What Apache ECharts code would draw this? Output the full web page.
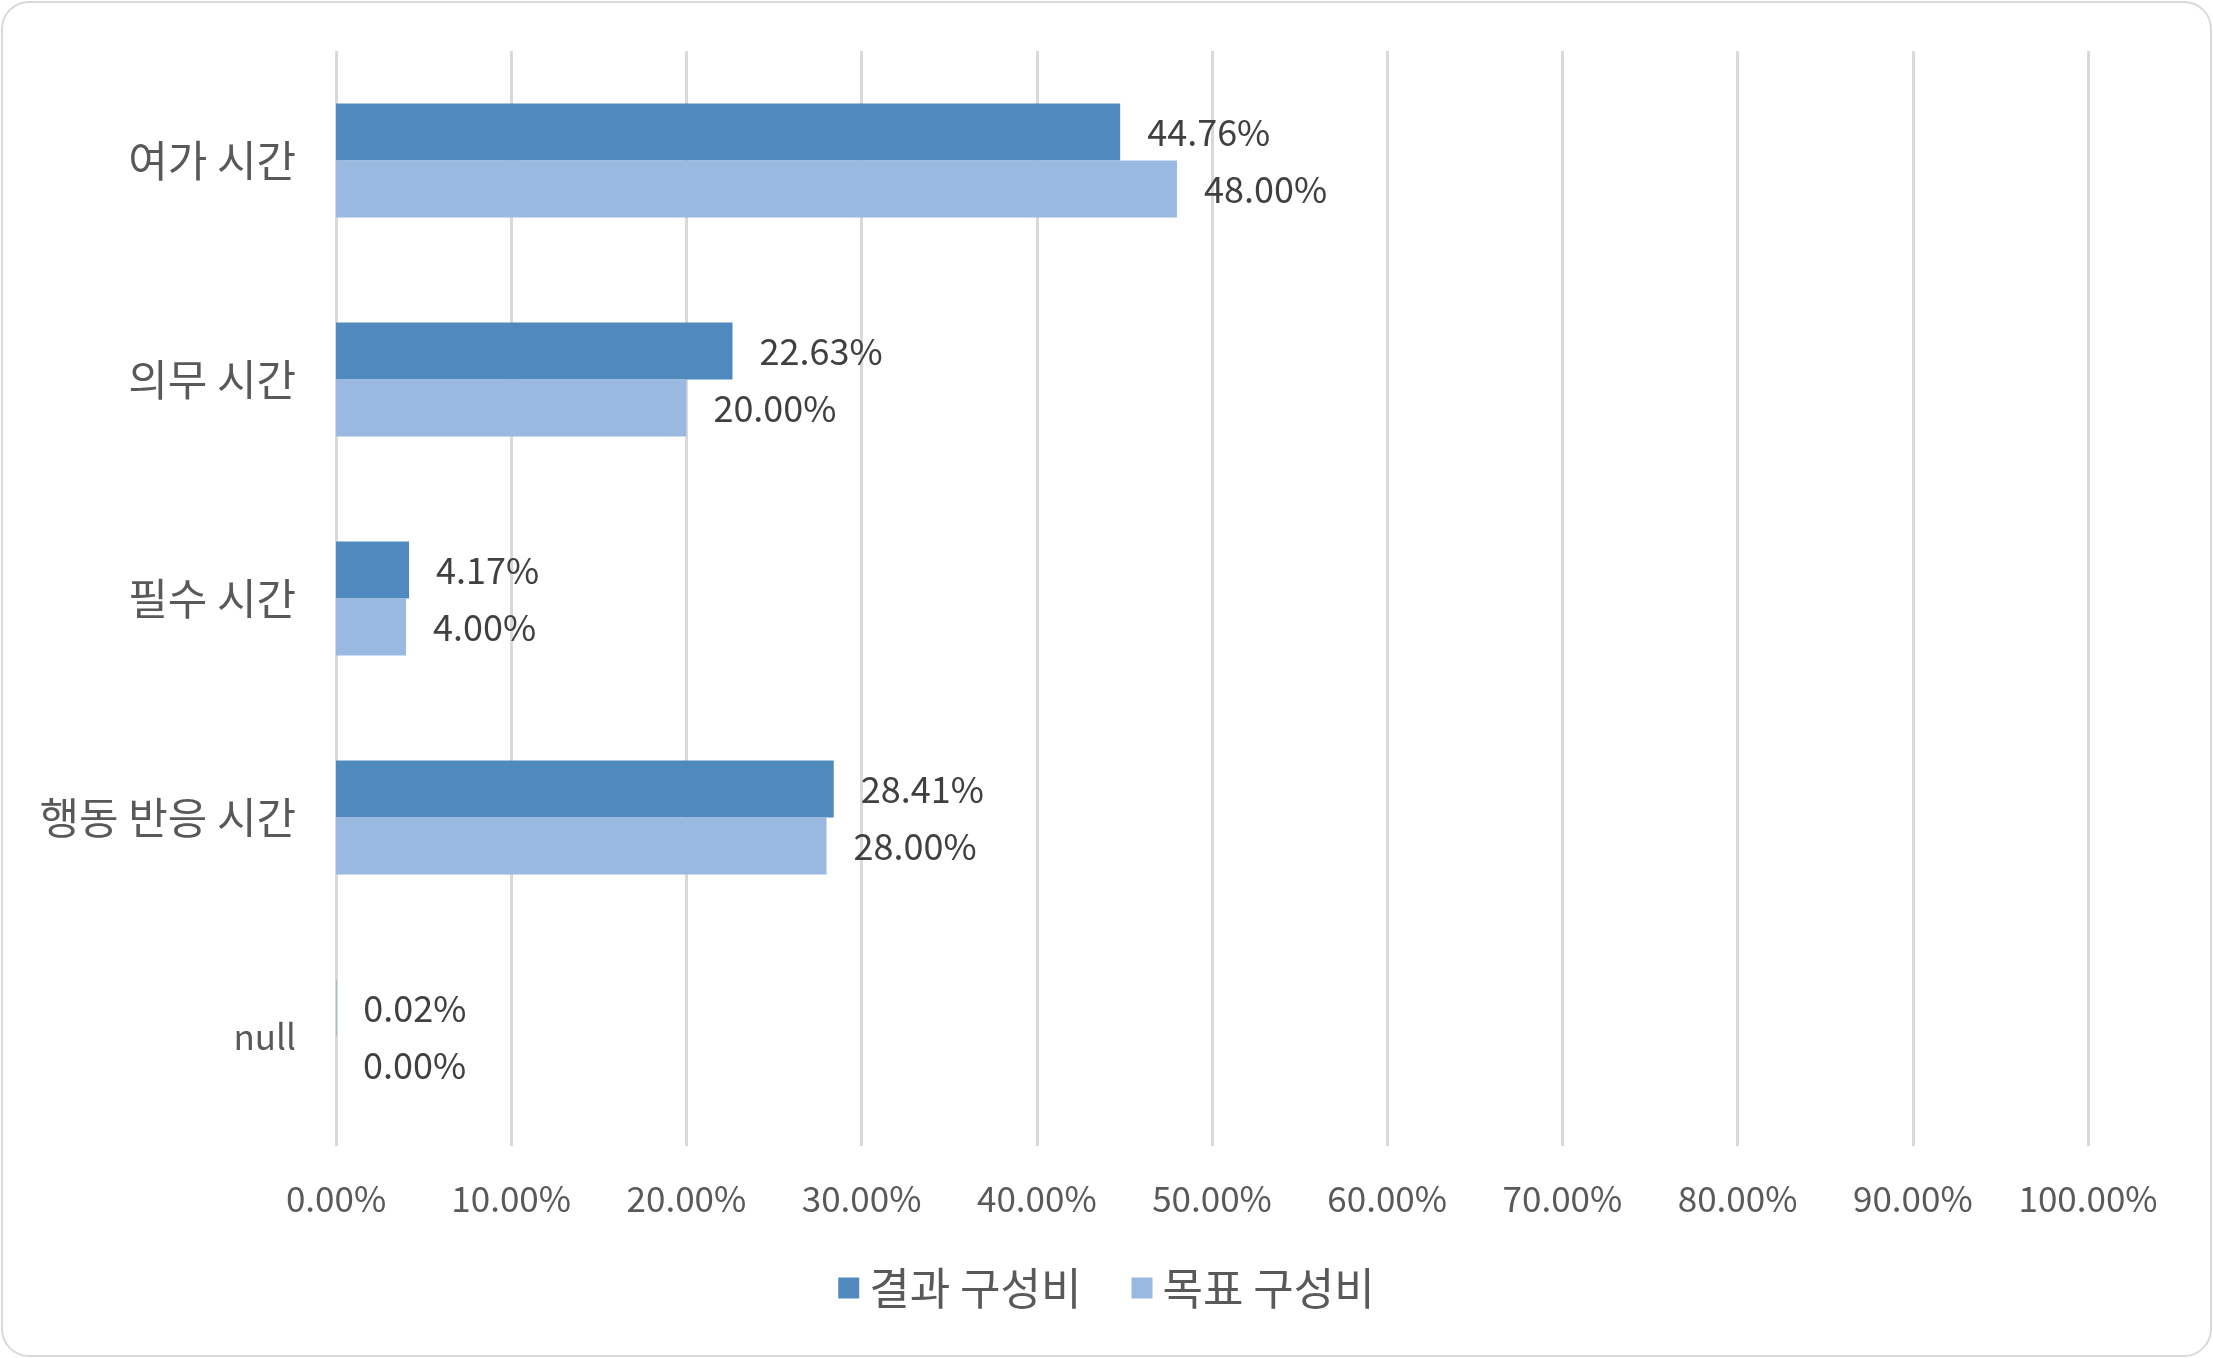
<!DOCTYPE html>
<html>
<head>
<meta charset="utf-8">
<script src="https://cdn.jsdelivr.net/npm/echarts@6/dist/echarts.min.js"></script>
<style>
html,body{margin:0;padding:0;background:#fff;}
#wrap{position:absolute;left:1px;top:1px;width:2207px;height:1352px;border:2px solid #d9d9d9;border-radius:28px;background:#fff;}
#chart{position:absolute;left:0;top:0;width:2213px;height:1358px;}
</style>
</head>
<body>
<div id="wrap"></div>
<div id="chart"></div>
<script>
const categories = ['여가 시간', '의무 시간', '필수 시간', '행동 반응 시간', 'null'];
const seriesNames = ['결과 구성비', '목표 구성비'];
const resultValues = [44.76, 22.63, 4.17, 28.41, 0.02];
const targetValues = [48.00, 20.00, 4.00, 28.00, 0.00];
const xTicks = { min: 0, max: 100, interval: 10 };

const font = '"Noto Sans CJK KR", "Noto Sans", sans-serif';
const chart = echarts.init(document.getElementById('chart'), null, { renderer: 'canvas' });
const pct = v => Number(v).toFixed(2) + '%';

const labelStyle = {
  show: true,
  position: 'right',
  distance: 27,
  formatter: p => pct(p.value),
  fontFamily: font,
  fontSize: 36,
  color: '#404040'
};

chart.setOption({
  backgroundColor: 'transparent',
  animation: false,
  textStyle: { fontFamily: font },
  grid: { left: 336, right: 125, top: 51, bottom: 212, containLabel: false },
  legend: {
    data: seriesNames,
    bottom: 43,
    left: 'center',
    icon: 'rect',
    itemWidth: 21,
    itemHeight: 21,
    itemGap: 50,
    textStyle: { fontFamily: font, fontSize: 44, color: '#595959', padding: [0, 0, 0, 5] }
  },
  xAxis: {
    type: 'value',
    min: xTicks.min,
    max: xTicks.max,
    interval: xTicks.interval,
    axisLine: { show: false },
    axisTick: { show: false },
    splitLine: { show: true, lineStyle: { color: '#d9d9d9', width: 3 } },
    axisLabel: {
      formatter: v => pct(v),
      margin: 35,
      fontFamily: font,
      fontSize: 35,
      color: '#595959'
    }
  },
  yAxis: {
    type: 'category',
    data: categories,
    inverse: true,
    axisLine: { show: false },
    axisTick: { show: false },
    splitLine: { show: false },
    axisLabel: {
      margin: 40,
      fontFamily: font,
      fontSize: 43,
      color: '#595959',
      formatter: v => (v === 'null' ? '{s|' + v + '}' : v),
      rich: { s: { fontFamily: font, fontSize: 35, color: '#595959' } }
    }
  },
  series: [
    {
      name: seriesNames[0],
      type: 'bar',
      data: resultValues,
      barWidth: 57,
      barGap: '0%',
      itemStyle: { color: '#4F89BD' },
      label: labelStyle
    },
    {
      name: seriesNames[1],
      type: 'bar',
      data: targetValues,
      barWidth: 57,
      barGap: '0%',
      itemStyle: { color: '#99B9E0' },
      label: labelStyle
    }
  ]
});
</script>
</body>
</html>
